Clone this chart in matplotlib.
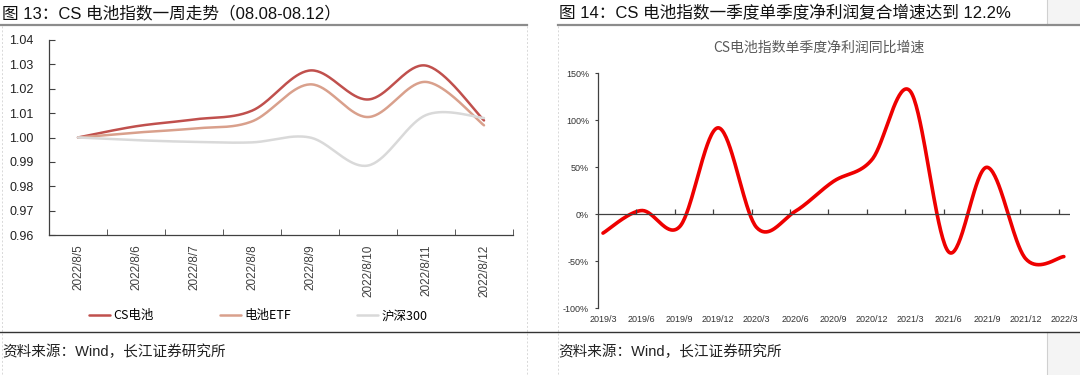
import numpy as np
import matplotlib

matplotlib.use("Agg")
import matplotlib.pyplot as plt
from matplotlib.lines import Line2D
from matplotlib.patches import Rectangle

plt.rcParams["font.family"] = ["Liberation Sans", "Noto Sans CJK SC", "DejaVu Sans"]

# ---- left chart data: one week of index values ----
week_dates = ["2022/8/5", "2022/8/6", "2022/8/7", "2022/8/8",
              "2022/8/9", "2022/8/10", "2022/8/11", "2022/8/12"]
cs_battery = [1.000, 1.0046, 1.0074, 1.011, 1.0275, 1.0156, 1.0295, 1.007]
battery_etf = [1.000, 1.002, 1.0037, 1.0066, 1.0218, 1.0084, 1.0228, 1.005]
hs300 = [1.000, 0.9989, 0.9982, 0.998, 1.000, 0.9885, 1.0092, 1.008]

# ---- right chart data: quarterly net profit yoy growth (%) ----
quarters = ["2019/3", "2019/6", "2019/9", "2019/12", "2020/3", "2020/6", "2020/9",
            "2020/12", "2021/3", "2021/6", "2021/9", "2021/12", "2022/3"]
profit_yoy = [-20, 4, -13, 92, -14, 3, 35, 58, 131, -40, 50, -47, -45]

W, H = 1080, 375


def smooth(x, y, n=40):
    """Excel-like smoothed line (Catmull-Rom Bezier through the points)."""
    p = np.column_stack([np.asarray(x, float), np.asarray(y, float)])
    out = []
    t = np.linspace(0, 1, n)[:, None]
    for i in range(len(p) - 1):
        p0 = p[i - 1] if i > 0 else p[i]
        p1, p2 = p[i], p[i + 1]
        p3 = p[i + 2] if i + 2 < len(p) else p[i + 1]
        c1 = p1 + (p2 - p0) / 6
        c2 = p2 - (p3 - p1) / 6
        seg = ((1 - t) ** 3) * p1 + 3 * ((1 - t) ** 2) * t * c1 \
            + 3 * (1 - t) * t ** 2 * c2 + t ** 3 * p2
        out.append(seg if i == 0 else seg[1:])
    seg = np.vstack(out)
    return seg[:, 0], seg[:, 1]


def fx(px):
    return px / W


def fy(py):
    return 1 - py / H


fig = plt.figure(figsize=(W / 100, H / 100), dpi=100)

# ---- page decorations ----
fig.add_artist(Rectangle((fx(1047), fy(25)), fx(33), 25 / H, color="#f4f4f4", lw=0))
fig.add_artist(Rectangle((fx(1047), 0), fx(33), fy(332), color="#f4f4f4", lw=0))
fig.add_artist(Line2D([fx(1047), fx(1047)], [fy(0), fy(25)], color="#d0d0d0", lw=0.8))
fig.add_artist(Line2D([fx(1047), fx(1047)], [fy(332), fy(375)], color="#d0d0d0", lw=0.8))
for xv in (2, 527, 558):
    fig.add_artist(Line2D([fx(xv), fx(xv)], [fy(26), fy(375)], color="#d8d8d8",
                          lw=0.7, ls=(0, (2, 2))))
fig.add_artist(Line2D([0, fx(527)], [fy(25), fy(25)], color="#8c8c8c", lw=1.6))
fig.add_artist(Line2D([fx(558), 1], [fy(25), fy(25)], color="#8c8c8c", lw=1.6))
fig.add_artist(Line2D([0, 1], [fy(332), fy(332)], color="#333333", lw=1.0))

fig.text(fx(2), fy(13), "图 13：CS 电池指数一周走势（08.08-08.12）",
         fontsize=12, va="center", ha="left", color="#111111")
fig.text(fx(559), fy(13), "图 14：CS 电池指数一季度单季度净利润复合增速达到 12.2%",
         fontsize=12, va="center", ha="left", color="#111111")
fig.text(fx(2), fy(352), "资料来源：Wind，长江证券研究所",
         fontsize=10.5, va="center", ha="left", color="#222222")
fig.text(fx(558), fy(352), "资料来源：Wind，长江证券研究所",
         fontsize=10.5, va="center", ha="left", color="#222222")

# ---- left chart ----
ax1 = fig.add_axes([fx(49), fy(235), fx(513 - 49), (235 - 40) / H])
xi = np.arange(len(week_dates))
series = [(cs_battery, "#c0504d", "CS电池"),
          (battery_etf, "#d9a08c", "电池ETF"),
          (hs300, "#d9d9d9", "沪深300")]
for vals, col, name in series:
    sx, sy = smooth(xi, vals)
    ax1.plot(sx, sy, color=col, lw=1.8, label=name, solid_capstyle="round")

ax1.set_xlim(-0.5, len(week_dates) - 0.5)
ax1.set_ylim(0.96, 1.04)
ax1.set_yticks(np.arange(0.96, 1.0401, 0.01))
ax1.set_yticklabels([f"{v:.2f}" for v in np.arange(0.96, 1.0401, 0.01)])
ax1.set_xticks(np.arange(-0.5, len(week_dates)), minor=True)
ax1.set_xticks(xi)
ax1.set_xticklabels(week_dates, rotation=90)
for s in ("top", "right"):
    ax1.spines[s].set_visible(False)
for s in ("left", "bottom"):
    ax1.spines[s].set_color("#404040")
    ax1.spines[s].set_linewidth(0.9)
ax1.tick_params(axis="y", direction="in", length=4, color="#404040",
                labelsize=9, labelcolor="#222222", pad=11)
ax1.tick_params(axis="x", which="major", length=0, labelsize=8.5,
                labelcolor="#404040", pad=7)
ax1.tick_params(axis="x", which="minor", direction="in", length=4, color="#404040")

fig.legend(handles=ax1.get_lines(), loc="center", ncol=3,
           bbox_to_anchor=(fx(258), fy(316)), frameon=False,
           handlelength=1.7, handletextpad=0.25, columnspacing=5.3,
           prop={"family": ["Noto Sans CJK SC"], "size": 9})

# ---- right chart ----
fig.text(fx(819), fy(48), "CS电池指数单季度净利润同比增速", fontsize=10,
         color="#595959", ha="center", va="center", family=["Noto Sans CJK SC"])
ax2 = fig.add_axes([fx(598), fy(308.3), fx(1070 - 598), (308.3 - 73.3) / H])
qi = np.arange(len(quarters))
sx, sy = smooth(qi, profit_yoy)
ax2.plot(sx, sy, color="#ee0000", lw=2.6, solid_capstyle="round")
ax2.axhline(0, color="#404040", lw=0.9)
ax2.plot(qi[1:] - 0.13, np.zeros(len(qi) - 1), ls="none", marker=2,
         markersize=3.5, color="#404040", markeredgewidth=0.9)
ax2.set_xlim(-0.13, len(quarters) - 1 + 0.16)
ax2.set_ylim(-100, 150)
ax2.set_yticks(np.arange(-100, 151, 50))
ax2.set_yticklabels([f"{v}%" for v in range(-100, 151, 50)])
ax2.set_xticks(qi)
ax2.set_xticklabels(quarters)
for s in ("top", "right", "bottom"):
    ax2.spines[s].set_visible(False)
ax2.spines["left"].set_color("#404040")
ax2.spines["left"].set_linewidth(0.9)
ax2.tick_params(axis="y", direction="out", length=2.5, color="#404040",
                labelsize=6.5, labelcolor="#333333", pad=4)
ax2.tick_params(axis="x", length=0, labelsize=6.5, labelcolor="#333333", pad=5)

fig.savefig("out.png", dpi=100)
